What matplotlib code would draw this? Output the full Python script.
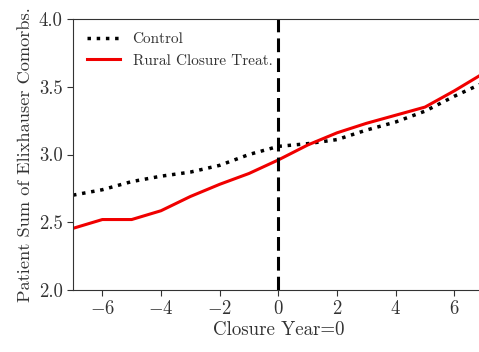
import matplotlib
matplotlib.use("Agg")
import matplotlib.pyplot as plt

years = [-7, -6, -5, -4, -3, -2, -1, 0, 1, 2, 3, 4, 5, 6, 7]
control = [2.70, 2.74, 2.80, 2.84, 2.87, 2.92, 3.00, 3.06, 3.08, 3.11, 3.18, 3.24, 3.32, 3.43, 3.53]
treat = [2.455, 2.52, 2.52, 2.585, 2.69, 2.78, 2.86, 2.96, 3.07, 3.16, 3.23, 3.29, 3.35, 3.47, 3.60]

plt.rcParams['font.family'] = 'serif'
plt.rcParams['font.serif'] = ['cmr10', 'DejaVu Serif']
plt.rcParams['mathtext.fontset'] = 'cm'
plt.rcParams['axes.formatter.use_mathtext'] = True

fig = plt.figure(figsize=(4.79, 3.52), dpi=100)
W, H = 479, 352
ax = fig.add_axes([73 / W, 62 / H, 410.7 / W, 271 / H])

ax.plot(years, control, color='black', linestyle=':', linewidth=2.5, label='Control')
ax.plot(years, treat, color='#f00000', linestyle='-', linewidth=2.2, label='Rural Closure Treat.')
ax.axvline(0, color='black', linestyle='--', linewidth=2.2, dashes=(4.5, 2))

ax.set_xlim(-7, 7)
ax.set_ylim(2.0, 4.0)
ax.set_xticks([-6, -4, -2, 0, 2, 4, 6])
ax.set_yticks([2.0, 2.5, 3.0, 3.5, 4.0])
ax.set_yticklabels(['2.0', '2.5', '3.0', '3.5', '4.0'])
ax.tick_params(labelsize=13.5, colors='#333333', direction='out', length=4)
for s in ax.spines.values():
    s.set_color('#333333')
ax.set_xlabel('Closure Year=0', fontsize=13.6, color='#333333', labelpad=2)
ax.set_ylabel('Patient Sum of Elixhauser Comorbs.', fontsize=13.2, color='#333333', labelpad=4)
leg = ax.legend(loc='upper left', frameon=False, fontsize=11, handlelength=2.2)
for t in leg.get_texts():
    t.set_color('#333333')

fig.savefig('out.png', dpi=100)
